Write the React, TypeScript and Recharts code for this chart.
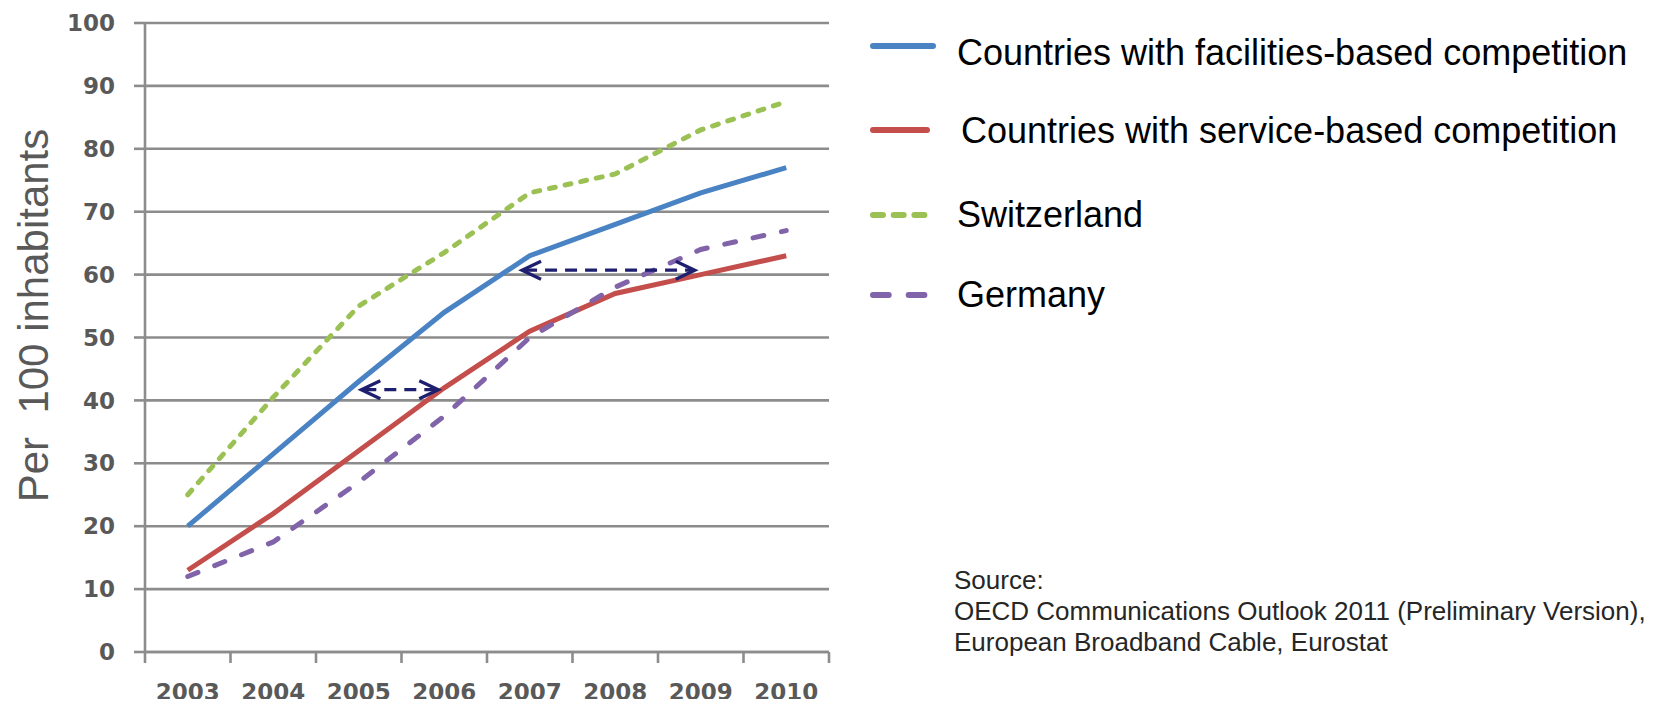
import { LineChart, Line, XAxis, YAxis, CartesianGrid, ReferenceLine, Legend, Label } from 'recharts'

const YEARS = [2003, 2004, 2005, 2006, 2007, 2008, 2009, 2010]
const FACILITIES = [20, 31.5, 43, 54, 63, 68, 73, 77]
const SERVICE = [13, 22, 32, 42, 51, 57, 60, 63]
const SWITZERLAND = [25, 40.5, 55, 63.5, 73, 76, 83, 87.5]
const GERMANY = [12, 17.5, 27, 37.5, 50, 58, 64, 67]

const Y_TICKS = [0, 10, 20, 30, 40, 50, 60, 70, 80, 90, 100]
// tick marks sit between the years, labels sit on the years
const X_BOUNDS = [2002.5, 2003.5, 2004.5, 2005.5, 2006.5, 2007.5, 2008.5, 2009.5, 2010.5]

// gaps marked with the dashed double arrows
const GAPS = [
  { value: 41.7, from: 2005.03, to: 2005.93 },
  { value: 60.7, from: 2006.91, to: 2008.93 }
]

const SOURCE_LINES = [
  'Source:',
  'OECD Communications Outlook 2011 (Preliminary Version),',
  'European Broadband Cable, Eurostat'
]

const SERIES = [
  { key: 'facilities', name: 'Countries with facilities-based competition', values: FACILITIES, color: '#4a83c4', dash: undefined, legendDash: undefined, swatchEnd: 933, textX: 957, baseline: 65 },
  { key: 'service', name: 'Countries with service-based competition', values: SERVICE, color: '#c44e4b', dash: undefined, legendDash: undefined, swatchEnd: 927, textX: 961, baseline: 143 },
  { key: 'switzerland', name: 'Switzerland', values: SWITZERLAND, color: '#9bc155', dash: '6 10', legendDash: '10 10.7', swatchEnd: 933, textX: 957, baseline: 227 },
  { key: 'germany', name: 'Germany', values: GERMANY, color: '#8063a9', dash: '11 18', legendDash: '15.7 20', swatchEnd: 925, textX: 957, baseline: 307 }
]

const GRID = '#8c8c8c'
const ARROW = '#1f1f6f'
const TICK_FONT = { fontFamily: '"DejaVu Sans", sans-serif', fontWeight: 700, fontSize: 23, fill: '#595959' }
const TEXT_FONT = '"Liberation Sans", Arial, sans-serif'

const chartData = YEARS.map((year, i) => {
  const row: Record<string, number> = { year }
  SERIES.forEach((s) => {
    row[s.key] = s.values[i]
  })
  return row
})

function YearTick(props: any) {
  const { x, y, index, width } = props
  const label = YEARS[index]
  if (label === undefined) return null
  const half = width / (X_BOUNDS.length - 1) / 2
  return (
    <text x={x + half} y={y} dy="0.71em" textAnchor="middle" {...TICK_FONT}>
      {label}
    </text>
  )
}

function GapArrow(props: any) {
  const { x1, y1, x2, y2 } = props
  const len = 19
  const half = 9
  return (
    <g stroke={ARROW} strokeWidth={3.3} fill="none" strokeLinecap="butt">
      <line x1={x1 + 3} y1={y1} x2={x2 - 3} y2={y2} strokeDasharray="12 8" />
      <polyline points={`${x1 + len},${y1 - half} ${x1},${y1} ${x1 + len},${y1 + half}`} />
      <polyline points={`${x2 - len},${y2 - half} ${x2},${y2} ${x2 - len},${y2 + half}`} />
    </g>
  )
}

function renderLegend() {
  return (
    <svg width={800} height={330} style={{ display: 'block' }}>
      {SERIES.map((s) => {
        const y = s.baseline - (s.key === 'facilities' ? 19 : s.key === 'service' ? 13 : 12)
        return (
          <g key={s.key}>
            <line
              x1={873 - 860}
              x2={s.swatchEnd - 860}
              y1={y}
              y2={y}
              stroke={s.color}
              strokeWidth={6}
              strokeLinecap="round"
              strokeDasharray={s.legendDash}
            />
            <text x={s.textX - 860} y={s.baseline} fontFamily={TEXT_FONT} fontSize={36} fill="#000">
              {s.name}
            </text>
          </g>
        )
      })}
    </svg>
  )
}

function YLabel() {
  return (
    <text
      x={48}
      y={315.5}
      transform="rotate(-90 48 315.5)"
      textAnchor="middle"
      fontFamily={TEXT_FONT}
      fontSize={42}
      fill="#595959"
    >
      {'Per\u00a0 100 inhabitants'}
    </text>
  )
}

export default function App(): JSX.Element {
  return (
    <div style={{ position: 'relative', width: 1662, height: 707, margin: -8, background: '#fff' }}>
      <LineChart width={1662} height={707} data={chartData} margin={{ top: 23, right: 833, bottom: 0, left: 0 }}>
        <CartesianGrid vertical={false} stroke={GRID} strokeWidth={2.6} />
        <XAxis
          dataKey="year"
          type="number"
          domain={[2002.5, 2010.5]}
          allowDataOverflow
          ticks={X_BOUNDS}
          interval={0}
          tick={<YearTick />}
          tickSize={11}
          tickMargin={21}
          height={55}
          axisLine={{ stroke: GRID, strokeWidth: 2.6 }}
          tickLine={{ stroke: GRID, strokeWidth: 2.6 }}
        />
        <YAxis
          type="number"
          domain={[0, 100]}
          ticks={Y_TICKS}
          interval={0}
          width={145}
          tickSize={11}
          tickMargin={19}
          tick={TICK_FONT}
          axisLine={{ stroke: GRID, strokeWidth: 2.6 }}
          tickLine={{ stroke: GRID, strokeWidth: 2.6 }}
          label={<Label content={<YLabel />} />}
        />
        {SERIES.map((s) => (
          <Line
            key={s.key}
            type="linear"
            dataKey={s.key}
            name={s.name}
            stroke={s.color}
            strokeWidth={5}
            strokeDasharray={s.dash}
            strokeLinecap={s.dash ? 'round' : 'butt'}
            dot={false}
            activeDot={false}
            isAnimationActive={false}
          />
        ))}
        {GAPS.map((g, i) => (
          <ReferenceLine
            key={i}
            segment={[
              { x: g.from, y: g.value },
              { x: g.to, y: g.value }
            ]}
            shape={GapArrow}
          />
        ))}
        <Legend
          layout="horizontal"
          verticalAlign="middle"
          align="center"
          content={renderLegend}
          wrapperStyle={{ left: 860, top: 0, width: 800, height: 330 }}
        />
      </LineChart>
      <div
        style={{
          position: 'absolute',
          left: 954,
          top: 565,
          fontFamily: TEXT_FONT,
          fontSize: 26,
          lineHeight: '31px',
          color: '#262626',
          whiteSpace: 'nowrap'
        }}
      >
        {SOURCE_LINES.map((line) => (
          <div key={line}>{line}</div>
        ))}
      </div>
    </div>
  )
}
